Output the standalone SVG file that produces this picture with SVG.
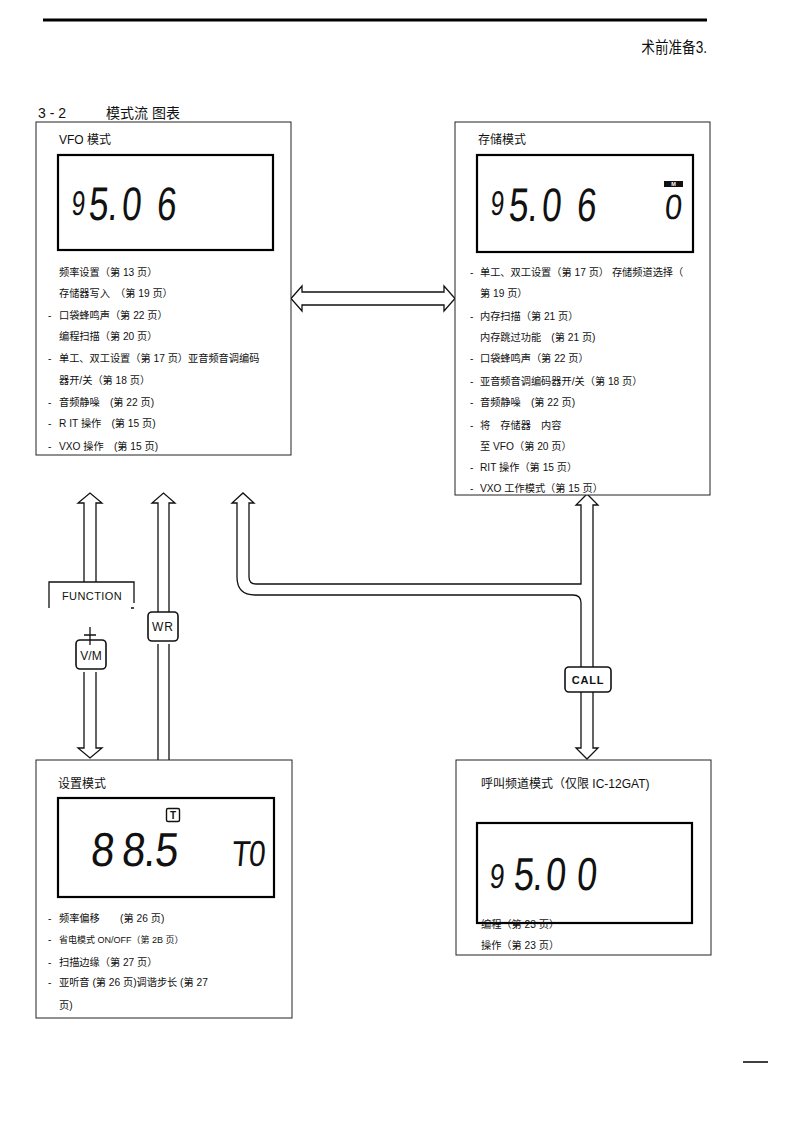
<svg xmlns="http://www.w3.org/2000/svg" width="785" height="1122" viewBox="0 0 785 1122">
<style>
.box{fill:#fff;stroke:#222;stroke-width:1}
.lcd{fill:#fff;stroke:#000;stroke-width:2.2}
.t{font-family:"Liberation Sans","Noto Sans CJK SC",sans-serif;font-size:10.2px;fill:#111}
.ts{font-family:"Liberation Sans","Noto Sans CJK SC",sans-serif;font-size:9px;fill:#111}
.h{font-family:"Liberation Sans","Noto Sans CJK SC",sans-serif;font-size:12px;fill:#111}
.seg{font-family:"Liberation Sans",sans-serif;font-size:44px;fill:#111}
.con{fill:#fff;stroke:#111;stroke-width:1.3;stroke-linejoin:miter}
.ln{fill:none;stroke:#111;stroke-width:1.3}
.key{fill:#fff;stroke:#111;stroke-width:1.6}
.kt{font-family:"Liberation Sans",sans-serif;font-size:11px;fill:#111;text-anchor:middle}
</style>

<g id="header">
<line x1="43" y1="20" x2="707" y2="20" stroke="#000" stroke-width="3"/>
<text x="707" y="53" text-anchor="end" font-family="Liberation Sans,Noto Sans CJK SC,sans-serif" font-size="16" fill="#111" transform="translate(707,0) scale(0.85,1) translate(-707,0)">术前准备3.</text>
<text x="38" y="118" font-family="Liberation Sans,Noto Sans CJK SC,sans-serif" font-size="14" fill="#111">3 - 2</text>
<text x="106" y="118" font-family="Liberation Sans,Noto Sans CJK SC,sans-serif" font-size="14" fill="#111">模式流 图表</text>
<line x1="743" y1="1062" x2="768" y2="1062" stroke="#000" stroke-width="1.5"/>
</g>

<g id="connectors">
<path class="con" d="M291,298.5 L302,286 V292 H444 V286 L455,298.5 L444,311 V305 H302 V311 Z"/>
<path class="ln" d="M84,582 V503 H78 L90,493 L102,503 H96 V582"/>
<path class="ln" d="M84,672 V748 H78 L90,758 L102,748 H96 V672"/>
<path class="ln" d="M158,612 V503 H152 L163.5,493 L175,503 H169 V612"/>
<path class="ln" d="M158,644 V760 M169,644 V760"/>
<path class="ln" d="M237,577 V503 H232 L243,493 L254,503 H249 V577 Q249,584 256,584 H581 V505 H576 L587,494 L598,505 H593 V667"/>
<path class="ln" d="M237,577 Q237,595 255,595 H573 Q581,595 581,603 V667"/>
<path class="ln" d="M581,692 V748 H576 L587,759 L598,748 H593 V692"/>
</g>

<g id="key-function">
<path class="ln" d="M49,608 V582 H134 V603 M131,608 H134"/>
<text x="92" y="600" class="kt" letter-spacing="0.4">FUNCTION</text>
</g>

<g id="key-vm">
<rect class="key" x="76" y="640" width="30" height="29" rx="4"/>
<path class="ln" d="M90,627 V645 M84,635 H96"/>
<text x="91" y="660" class="kt" style="font-size:12px">V/M</text>
</g>

<g id="key-wr">
<rect class="key" x="148" y="612" width="30" height="29" rx="4"/>
<text x="163" y="631" class="kt" style="font-size:12px" letter-spacing="1">WR</text>
</g>

<g id="key-call">
<rect class="key" x="565" y="667" width="46" height="25" rx="4"/>
<text x="588" y="684" class="kt" style="font-weight:bold" letter-spacing="0.8">CALL</text>
</g>

<g id="vfo-mode">
<rect class="box" x="36" y="122" width="255" height="333"/>
<text x="59" y="144" class="h">VFO 模式</text>
<rect class="lcd" x="58" y="155" width="215" height="95"/>
<text class="seg" transform="translate(71,215) scale(0.55,0.78) skewX(-6)">9</text>
<text class="seg" transform="translate(88,220) scale(0.8,1.07) skewX(-6)">5</text>
<text class="seg" transform="translate(107,220) scale(0.8,1.07) skewX(-6)">.</text>
<text class="seg" transform="translate(121,220) scale(0.8,1.07) skewX(-6)">0</text>
<text class="seg" transform="translate(156,220) scale(0.8,1.07) skewX(-6)">6</text>
<text x="59" y="276" class="t">频率设置（第 13 页）</text>
<text x="59" y="297" class="t">存储器写入　（第 19 页）</text>
<text x="48" y="319" class="t">-</text><text x="59" y="319" class="t">口袋蜂鸣声（第 22 页）</text>
<text x="59" y="340" class="t">编程扫描（第 20 页）</text>
<text x="48" y="362" class="t">-</text><text x="59" y="362" class="t">单工、双工设置（第 17 页）亚音频音调编码</text>
<text x="59" y="384" class="t">器开/关（第 18 页）</text>
<text x="48" y="406" class="t">-</text><text x="59" y="406" class="t">音频静噪　(第 22 页)</text>
<text x="48" y="427" class="t">-</text><text x="59" y="427" class="t">R IT 操作　(第 15 页)</text>
<text x="48" y="450" class="t">-</text><text x="59" y="450" class="t">VXO 操作　(第 15 页)</text>
</g>

<g id="memory-mode">
<rect class="box" x="455" y="122" width="255" height="373"/>
<text x="478" y="144" class="h">存储模式</text>
<rect class="lcd" x="477" y="155" width="216" height="97"/>
<text class="seg" transform="translate(490,215) scale(0.55,0.78) skewX(-6)">9</text>
<text class="seg" transform="translate(508,221) scale(0.8,1.07) skewX(-6)">5</text>
<text class="seg" transform="translate(527,221) scale(0.8,1.07) skewX(-6)">.</text>
<text class="seg" transform="translate(541,221) scale(0.8,1.07) skewX(-6)">0</text>
<text class="seg" transform="translate(576,221) scale(0.8,1.07) skewX(-6)">6</text>
<rect x="664" y="181" width="19" height="6" fill="#111"/>
<text x="673.5" y="186" font-family="Liberation Sans,sans-serif" font-size="5.5" font-weight="bold" fill="#fff" text-anchor="middle">M</text>
<text class="seg" transform="translate(664,219) scale(0.7,0.8) skewX(-6)">0</text>
<text x="470" y="276" class="t">-</text><text x="480" y="276" class="t">单工、双工设置（第 17 页） 存储频道选择（</text>
<text x="480" y="297" class="t">第 19 页）</text>
<text x="470" y="320" class="t">-</text><text x="480" y="320" class="t">内存扫描（第 21 页）</text>
<text x="480" y="341" class="t">内存跳过功能　(第 21 页)</text>
<text x="470" y="362" class="t">-</text><text x="480" y="362" class="t">口袋蜂鸣声（第 22 页）</text>
<text x="470" y="385" class="t">-</text><text x="480" y="385" class="t">亚音频音调编码器开/关（第 18 页）</text>
<text x="470" y="406" class="t">-</text><text x="480" y="406" class="t">音频静噪　(第 22 页)</text>
<text x="470" y="429" class="t">-</text><text x="480" y="429" class="t">将　存储器　内容</text>
<text x="480" y="450" class="t">至 VFO（第 20 页）</text>
<text x="470" y="471" class="t">-</text><text x="480" y="471" class="t">RIT 操作（第 15 页）</text>
<text x="470" y="492" class="t">-</text><text x="480" y="492" class="t">VXO 工作模式（第 15 页）</text>
</g>

<g id="setup-mode">
<rect class="box" x="36" y="760" width="256" height="258"/>
<text x="58" y="788" class="h">设置模式</text>
<rect class="lcd" x="58" y="798" width="216" height="99"/>
<rect x="166.5" y="808.5" width="13" height="13" rx="1.5" fill="#fff" stroke="#111" stroke-width="1.4"/>
<text x="173" y="819" font-family="Liberation Sans,sans-serif" font-size="10" font-weight="bold" fill="#111" text-anchor="middle">T</text>
<text class="seg" transform="translate(90,866) scale(0.95,1.08) skewX(-6)">8</text>
<text class="seg" transform="translate(121,866) scale(0.95,1.08) skewX(-6)">8</text>
<text class="seg" transform="translate(143,866) scale(0.95,1.08) skewX(-6)">.</text>
<text class="seg" transform="translate(154,866) scale(0.95,1.08) skewX(-6)">5</text>
<text class="seg" transform="translate(231,866) scale(0.68,0.82) skewX(-6)">T</text>
<text class="seg" transform="translate(248,866) scale(0.68,0.82) skewX(-6)">0</text>
<text x="48" y="922" class="t">-</text><text x="59" y="922" class="t">频率偏移　　(第 26 页)</text>
<text x="48" y="943" class="t">-</text><text x="59" y="943" class="ts">省电模式 ON/OFF（第 2B 页）</text>
<text x="48" y="966" class="t">-</text><text x="59" y="966" class="t">扫描边缘（第 27 页）</text>
<text x="48" y="986" class="t">-</text><text x="59" y="986" class="t">亚听音 (第 26 页)调谐步长 (第 27</text>
<text x="59" y="1009" class="t">页)</text>
</g>

<g id="call-mode">
<rect class="box" x="456" y="760" width="255" height="195"/>
<text x="481" y="788" class="h">呼叫频道模式（仅限 IC-12GAT)</text>
<rect class="lcd" x="477" y="823" width="215" height="100"/>
<text class="seg" transform="translate(489,888) scale(0.6,0.78) skewX(-6)">9</text>
<text class="seg" transform="translate(513,890) scale(0.82,1.05) skewX(-6)">5</text>
<text class="seg" transform="translate(532,890) scale(0.82,1.05) skewX(-6)">.</text>
<text class="seg" transform="translate(545,890) scale(0.82,1.05) skewX(-6)">0</text>
<text class="seg" transform="translate(576,890) scale(0.82,1.05) skewX(-6)">0</text>
<text x="481" y="928" class="t">编程（第 23 页）</text>
<text x="481" y="949" class="t">操作（第 23 页）</text>
</g>
</svg>
